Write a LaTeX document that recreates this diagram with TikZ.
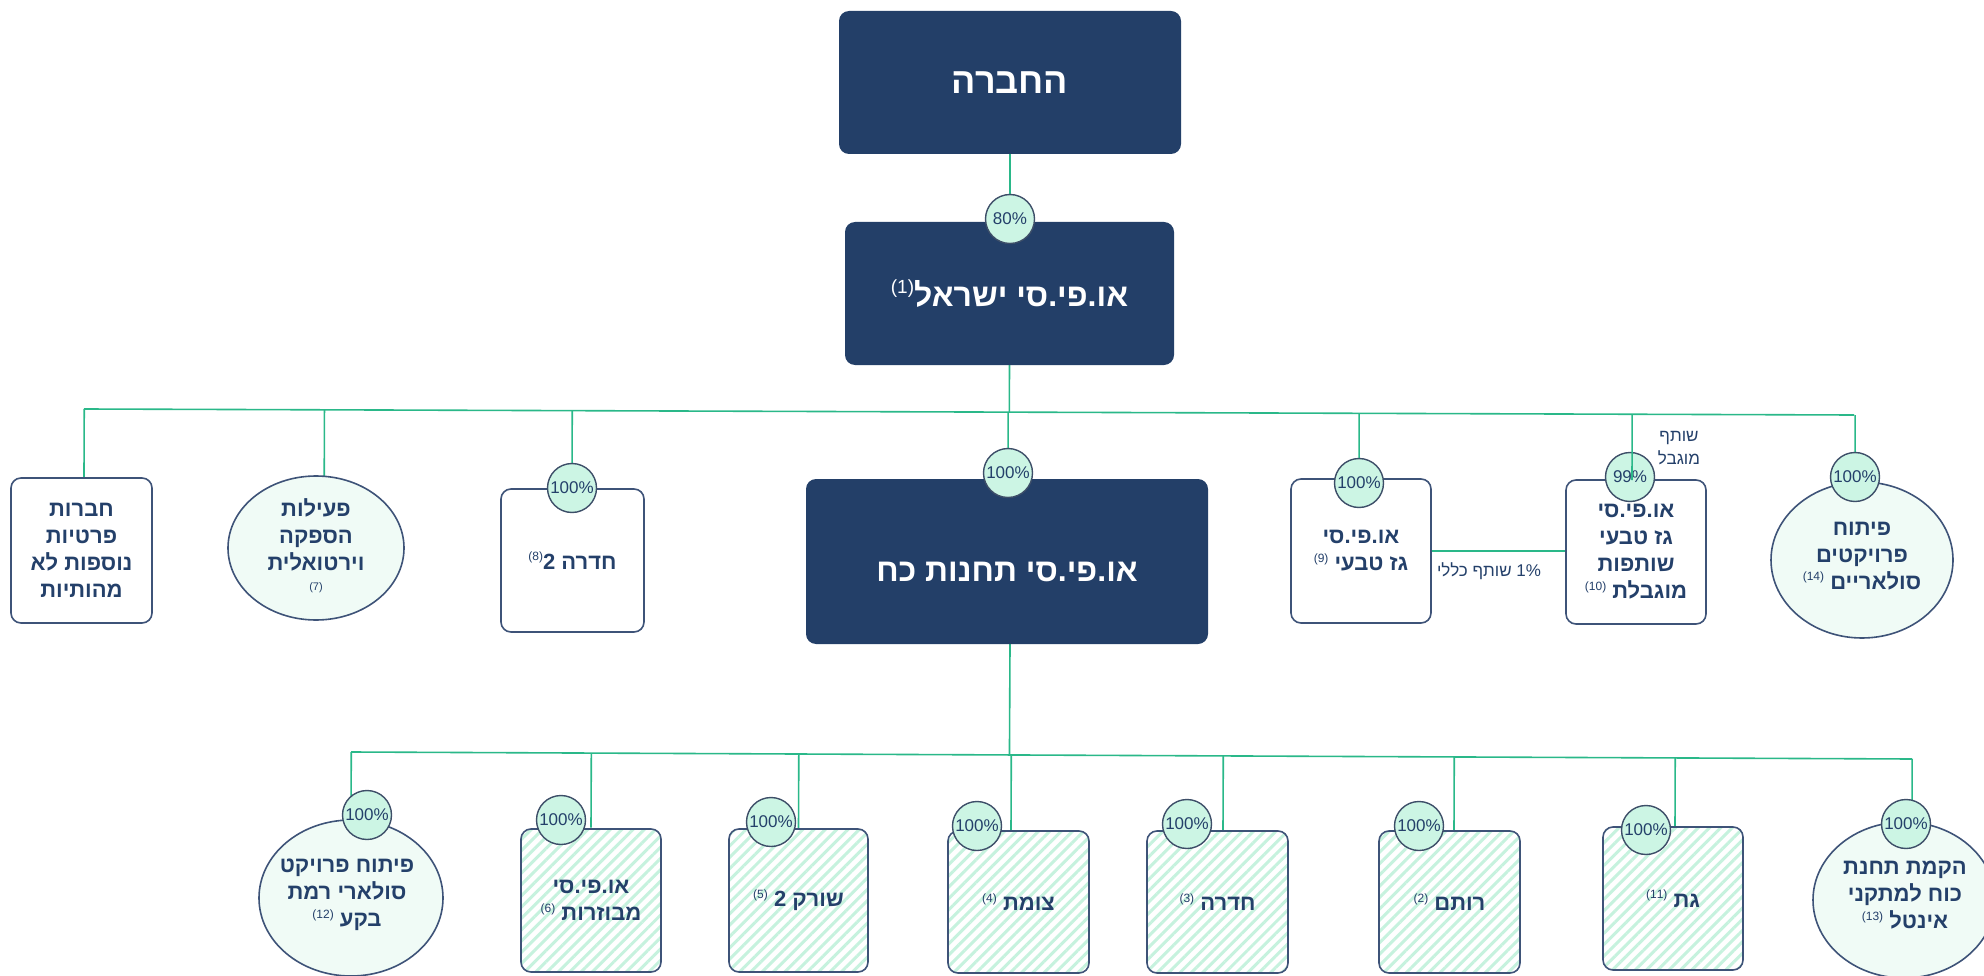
\documentclass[tikz,border=0pt]{standalone}
\usepackage{fontspec}
\setmainfont{Liberation Sans}
\newfontfamily\hebfont[Script=Hebrew]{Liberation Sans}
\TeXXeTstate=1
\usetikzlibrary{shapes.geometric,patterns.meta,backgrounds,calc}
\definecolor{navy}{HTML}{233F68}
\definecolor{txtnavy}{HTML}{24406A}
\definecolor{bordc}{HTML}{3E5378}
\definecolor{linec}{HTML}{2AB889}
\definecolor{pctfill}{HTML}{CCF5E4}
\definecolor{pctdraw}{HTML}{3D4E68}
\definecolor{ellfill}{HTML}{F0FBF6}
\definecolor{hatchc}{HTML}{C6F2DE}
\newcommand{\heb}[1]{\beginR #1\endR}
\newcommand{\sps}[1]{\raisebox{0.38em}{\fontsize{12}{12}\selectfont\mdseries(#1)}}
\newcommand{\spsb}[1]{\raisebox{0.42em}{\fontsize{19}{19}\selectfont\mdseries(#1)}}
\begin{document}
\begin{tikzpicture}[x=1pt,y=-1pt,
  darkbox/.style={rectangle, rounded corners=10pt, fill=navy, draw=none, text=white, inner sep=0pt,
    font={\hebfont\bfseries\fontsize{32}{38}\selectfont}},
  wbox/.style={rectangle, rounded corners=10pt, draw=bordc, line width=1.6pt, fill=white, text=txtnavy,
    align=center, inner sep=0pt, font={\hebfont\bfseries\fontsize{22}{27}\selectfont}},
  hbox/.style={wbox, preaction={fill=white}, pattern={Lines[angle=45,distance=8pt,line width=3pt]}, pattern color=hatchc},
  ell/.style={ellipse, draw=bordc, line width=1.6pt, fill=ellfill, inner sep=0pt},
  elltext/.style={text=txtnavy, align=center, inner sep=0pt, font={\hebfont\bfseries\fontsize{22}{27}\selectfont}},
  pct/.style={circle, minimum size=49pt, inner sep=0pt, fill=pctfill, draw=pctdraw, line width=1.4pt, text=txtnavy,
    font={\hebfont\fontsize{17}{17}\selectfont}},
  conn/.style={draw=linec, line width=1.6pt},
  lbl/.style={text=txtnavy, align=center, inner sep=0pt, font={\hebfont\fontsize{17}{23}\selectfont}}
]
\useasboundingbox (0,0) rectangle (1984,976);

% ---- top levels
\node[darkbox, minimum width=342pt, minimum height=143pt, font={\hebfont\bfseries\fontsize{36}{40}\selectfont}] (top) at (1010,82.5) {\heb{החברה}};
\node[darkbox, minimum width=329pt, minimum height=143pt] (isr) at (1009.5,293.5) {\heb{או.פי.סי ישראל\spsb{1}}};
\node[pct] (p80) at (1010,219) {80\%};

% ---- level 2
\node[wbox, minimum width=141pt, minimum height=145pt] (L1) at (81.5,550.5)
  {\heb{חברות}\\\heb{פרטיות}\\\heb{נוספות לא}\\\heb{מהותיות}};
\node[ell, minimum width=176pt, minimum height=144pt] (E7) at (316,548) {};
\node[elltext] (E7t) at (316,546) {\heb{פעילות}\\\heb{הספקה}\\\heb{וירטואלית}\\[-7pt]{\fontsize{11}{11}\selectfont\mdseries(7)}};
\node[wbox, minimum width=143pt, minimum height=143pt] (B8) at (572.5,560.5) {\heb{חדרה 2\sps{8}}};
\node[pct] (p8) at (572,488) {100\%};
\node[darkbox, minimum width=402pt, minimum height=165pt, text height=40pt] (main) at (1007,561.5) {\heb{או.פי.סי תחנות כח}};
\node[pct] (pM) at (1008,473) {100\%};
\node[wbox, minimum width=140pt, minimum height=144pt] (B9) at (1361,551) {\heb{או.פי.סי}\\\heb{גז טבעי \sps{9}}};
\node[pct] (p9) at (1359,483) {100\%};
\node[wbox, minimum width=140pt, minimum height=144pt] (B10) at (1636,552)
  {\heb{או.פי.סי}\\\heb{גז טבעי}\\\heb{שותפות}\\\heb{מוגבלת \sps{10}}};
\node[pct] (p99) at (1630,477) {99\%};
\node[ell, minimum width=182pt, minimum height=156pt] (E14) at (1862,560) {};
\node[elltext] (E14t) at (1862,556) {\heb{פיתוח}\\\heb{פרויקטים}\\\heb{סולאריים \sps{14}}};
\node[pct] (p14) at (1855,477) {100\%};
\node[lbl] (gp) at (1489,571) {\heb{\beginL 1\%\endL{} שותף כללי}};
\node[lbl] (lp) at (1679,448) {\heb{שותף}\\\heb{מוגבל}};

% ---- level 3
\node[ell, minimum width=184pt, minimum height=156pt] (E12) at (351,898) {};
\node[elltext] (E12t) at (347,895) {\heb{פיתוח פרויקט}\\\heb{סולארי רמת}\\\heb{בקע \sps{12}}};
\node[pct] (p12) at (367,815) {100\%};
\node[hbox, minimum width=140pt, minimum height=143pt] (B6) at (591,900.5) {\heb{או.פי.סי}\\\heb{מבוזרות \sps{6}}};
\node[pct] (p6) at (561,820) {100\%};
\node[hbox, minimum width=139pt, minimum height=143pt] (B5) at (798.5,900.5) {\heb{שורק 2 \sps{5}}};
\node[pct] (p5) at (771,822) {100\%};
\node[hbox, minimum width=141pt, minimum height=142pt] (B4) at (1018.5,902) {\heb{צומת \sps{4}}};
\node[pct] (p4) at (977,826) {100\%};
\node[hbox, minimum width=141pt, minimum height=142pt] (B3) at (1217.5,902) {\heb{חדרה \sps{3}}};
\node[pct] (p3) at (1187,824) {100\%};
\node[hbox, minimum width=141pt, minimum height=142pt] (B2) at (1449.5,902) {\heb{רותם \sps{2}}};
\node[pct] (p2) at (1419,826) {100\%};
\node[hbox, minimum width=140pt, minimum height=143pt] (B11) at (1673,898.5) {\heb{גת \sps{11}}};
\node[pct] (p11) at (1646,830) {100\%};
\node[ell, minimum width=182pt, minimum height=156pt] (E13) at (1904,900) {};
\node[elltext] (E13t) at (1905,895) {\heb{הקמת תחנת}\\\heb{כוח למתקני}\\\heb{אינטל \sps{13}}};
\node[pct] (p13) at (1906,824) {100\%};

% ---- connectors
\coordinate (b2L) at (84,409);
\coordinate (b2R) at (1854,415);
\coordinate (b3L) at (351,752);
\coordinate (b3R) at (1912,759);
\coordinate (dL1) at ([xshift=2.5pt]L1.north);
\coordinate (dE7) at ([xshift=8pt]E7.center);
\coordinate (dMs) at ([xshift=3pt]main.south);
\coordinate (d12) at ([xshift=-16pt]p12.center);
\coordinate (d4) at ([xshift=-7.5pt]B4.north);
\coordinate (d3) at ([xshift=5.5pt]B3.north);
\coordinate (d2) at ([xshift=4.5pt]B2.north);
\coordinate (d11) at ([xshift=2pt]B11.north);
\coordinate (d13) at ([xshift=6pt]p13.center);
\coordinate (d99) at ([xshift=2pt,yshift=-3pt]p99.center);

\begin{scope}[on background layer]
  \draw[conn] (top.south) -- (p80.center);
  \draw[conn] (b2L) -- (b2R);
  \draw[conn] (isr.south) -- ($(b2L)!(isr.south)!(b2R)$);
  \draw[conn] ($(b2L)!(dL1)!(b2R)$) -- (dL1);
  \draw[conn] ($(b2L)!(dE7)!(b2R)$) -- (dE7);
  \draw[conn] ($(b2L)!(p8.center)!(b2R)$) -- (p8.center);
  \draw[conn] ($(b2L)!(pM.center)!(b2R)$) -- (pM.center);
  \draw[conn] ($(b2L)!(p9.center)!(b2R)$) -- (p9.center);
  \draw[conn] ($(b2L)!(p14.center)!(b2R)$) -- (p14.center);
  \draw[conn] (B9.east) -- (B9.east -| B10.west);
  \draw[conn] (b3L) -- (b3R);
  \draw[conn] (dMs) -- ($(b3L)!(dMs)!(b3R)$);
  \draw[conn] ($(b3L)!(d12)!(b3R)$) -- (d12);
  \draw[conn] ($(b3L)!(B6.north)!(b3R)$) -- (B6.north);
  \draw[conn] ($(b3L)!(B5.north)!(b3R)$) -- (B5.north);
  \draw[conn] ($(b3L)!(d4)!(b3R)$) -- (d4);
  \draw[conn] ($(b3L)!(d3)!(b3R)$) -- (d3);
  \draw[conn] ($(b3L)!(d2)!(b3R)$) -- (d2);
  \draw[conn] ($(b3L)!(d11)!(b3R)$) -- (d11);
  \draw[conn] ($(b3L)!(d13)!(b3R)$) -- (d13);
\end{scope}
\draw[conn] ($(b2L)!(d99)!(b2R)$) -- (d99);
\end{tikzpicture}
\end{document}
